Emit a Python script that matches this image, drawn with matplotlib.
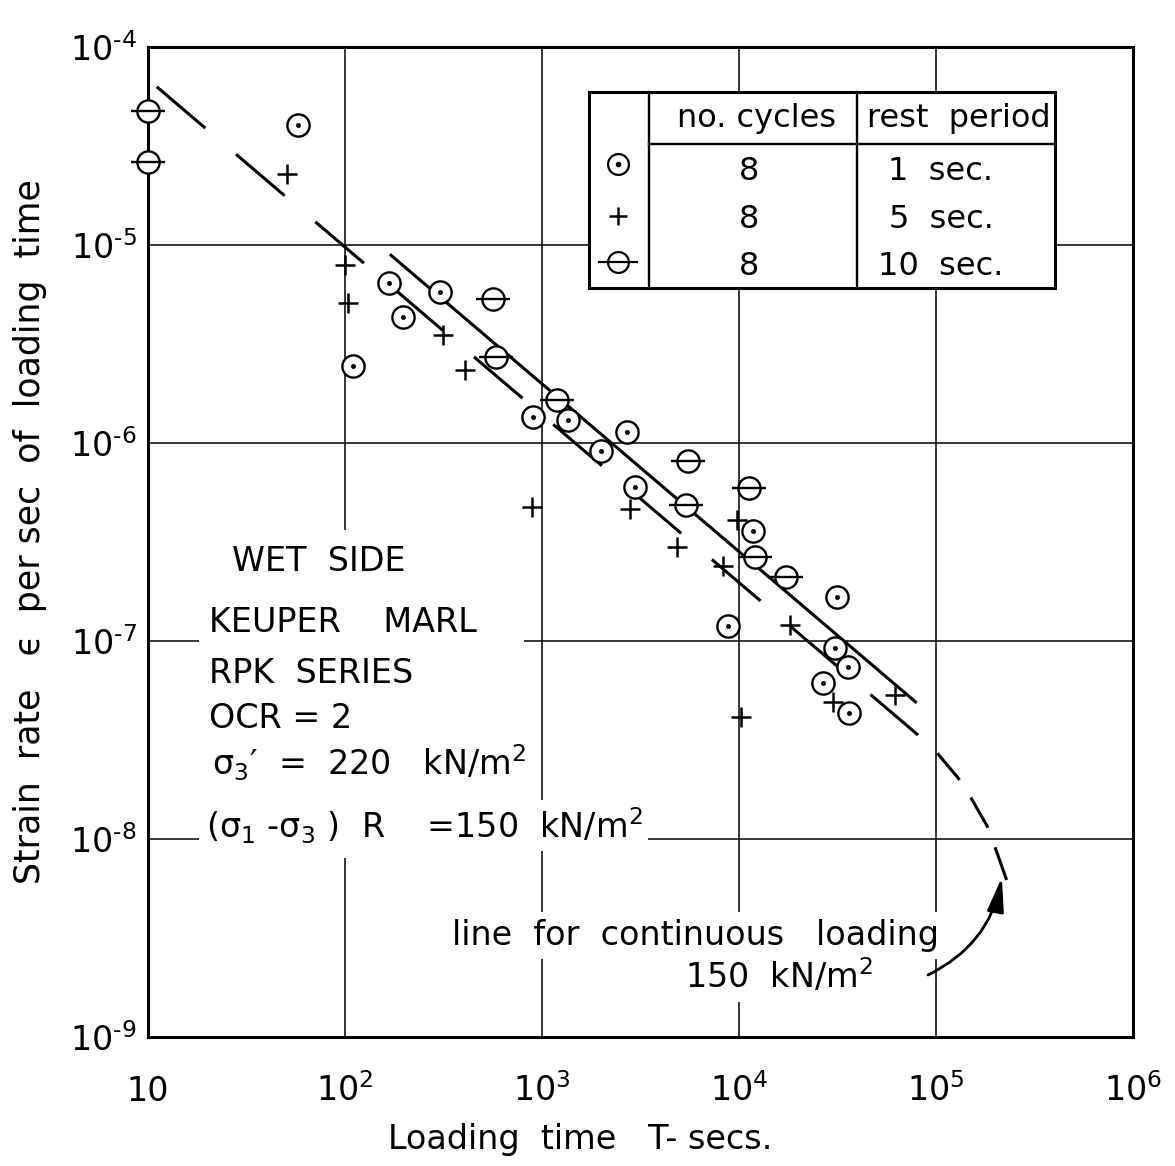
import matplotlib
matplotlib.use("Agg")
import matplotlib.pyplot as plt
from matplotlib.patches import Rectangle
from matplotlib.lines import Line2D

plt.rcParams["font.family"] = ["DejaVu Sans"]
plt.rcParams["mathtext.fontset"] = "dejavusans"
plt.rcParams["lines.scale_dashes"] = False

# ---- data -------------------------------------------------------------
# rest period 1 sec (dotted circles)
dot_T = [58, 110, 168, 198, 303, 897, 1349, 1990, 2710, 2966,
         8830, 11720, 26600, 30670, 31600, 35880, 36300]
dot_rate = [4.03e-5, 2.45e-6, 6.45e-6, 4.35e-6, 5.77e-6, 1.36e-6, 1.31e-6,
            9.1e-7, 1.14e-6, 6.0e-7, 1.19e-7, 3.6e-7, 6.15e-8, 9.2e-8,
            1.66e-7, 7.36e-8, 4.31e-8]

# rest period 5 sec (plus)
plus_T = [50.6, 100, 104, 315, 406, 885, 2800, 4864, 8260, 9730,
          10230, 18170, 30100, 61900]
plus_rate = [2.28e-5, 7.92e-6, 5.08e-6, 3.51e-6, 2.34e-6, 4.77e-7, 4.62e-7,
             2.99e-7, 2.39e-7, 4.08e-7, 4.15e-8, 1.2e-7, 4.93e-8, 5.33e-8]

# rest period 10 sec (barred circles)
bar_T = [10, 10, 562, 581, 1186, 5380, 5530, 11270, 12050, 17340]
bar_rate = [4.76e-5, 2.62e-5, 5.32e-6, 2.73e-6, 1.65e-6, 4.86e-7, 8.1e-7,
            5.94e-7, 2.65e-7, 2.11e-7]

# line through the cyclic test results
cyc_T = [169, 79800]
cyc_rate = [8.97e-6, 4.87e-8]

# line for continuous loading: straight part, then the bend at long times
cont_T = [11.07, 81100]
cont_rate = [6.3e-5, 3.35e-8]
bend_T = [1.016e5, 1.297e5, 1.476e5, 1.82e5, 1.99e5, 2.33e5]
bend_rate = [2.71e-8, 2.03e-8, 1.67e-8, 1.16e-8, 9.14e-9, 5.86e-9]
arrow_tip = (2.16e5, 6.4e-9)

x_ticks = [10, 1e2, 1e3, 1e4, 1e5, 1e6]
x_ticklabels = ["10", r"$10^{2}$", r"$10^{3}$", r"$10^{4}$", r"$10^{5}$", r"$10^{6}$"]
y_ticks = [1e-9, 1e-8, 1e-7, 1e-6, 1e-5, 1e-4]
y_ticklabels = [r"$10^{‐9}$", r"$10^{‐8}$", r"$10^{‐7}$", r"$10^{‐6}$",
                r"$10^{‐5}$", r"$10^{‐4}$"]

table_header = ["no. cycles", "rest  period"]
table_cycles = ["8", "8", "8"]
table_rest = ["1  sec.", "5  sec.", "10  sec."]

info_lines = ["WET  SIDE", "KEUPER    MARL", "RPK  SERIES", "OCR = 2",
              "σ$_3$′  =  220   kN/m$^2$",
              "(σ$_1$ -σ$_3$ )  R    =150  kN/m$^2$"]

# ---- figure -----------------------------------------------------------
W, H = 1175, 1166
AX_L, AX_R, AX_T, AX_B = 148, 1133, 47, 1037
fig = plt.figure(figsize=(W / 100, H / 100), dpi=100)
ax = fig.add_axes([AX_L / W, 1 - AX_B / H, (AX_R - AX_L) / W, (AX_B - AX_T) / H])


def afr(px, py):
    """pixel position on the sheet -> axes fraction"""
    return ((px - AX_L) / (AX_R - AX_L), (AX_B - py) / (AX_B - AX_T))


ax.set_xscale("log")
ax.set_yscale("log")
ax.set_xlim(10, 1e6)
ax.set_ylim(1e-9, 1e-4)
ax.set_xticks(x_ticks)
ax.set_xticklabels(x_ticklabels)
ax.set_yticks(y_ticks)
ax.set_yticklabels(y_ticklabels)
ax.minorticks_off()
ax.tick_params(axis="both", length=0, labelsize=24)
ax.tick_params(axis="x", pad=46)
ax.tick_params(axis="y", pad=8)
for lab in ax.get_xticklabels():
    lab.set_verticalalignment("baseline")
ax.grid(True, which="major", color="black", lw=1.1)
for sp in ax.spines.values():
    sp.set_linewidth(2.2)

ax.set_xlabel("Loading  time   T- secs.", fontsize=24)
ax.set_ylabel("Strain  rate   ϵ  per sec  of  loading  time", fontsize=25)
ax.yaxis.set_label_coords(*afr(30, 532))
ax.xaxis.set_label_coords(*afr(580, 1140))
ax.xaxis.label.set_verticalalignment("center")
ax.yaxis.label.set_verticalalignment("center")

# lines
ax.plot(cyc_T, cyc_rate, color="black", lw=2.2, zorder=3, solid_capstyle="butt")
ax.plot(cont_T, cont_rate, color="black", lw=2.2, zorder=3,
        dashes=(46, 29), dash_capstyle="butt")
ax.plot(bend_T, bend_rate, color="black", lw=2.2, zorder=3,
        dashes=(25, 15), dash_capstyle="butt")

# markers
mk = dict(linestyle="none", clip_on=False)
ax.plot(dot_T, dot_rate, marker="o", ms=16, mfc="white", mec="black", mew=1.7, zorder=5, **mk)
ax.plot(dot_T, dot_rate, marker="o", ms=3, mfc="black", mec="black", mew=0.5, zorder=6, **mk)
ax.plot(plus_T, plus_rate, marker="+", ms=15, mec="black", mew=1.8, zorder=5, **mk)
ax.plot(bar_T, bar_rate, marker="o", ms=16, mfc="white", mec="black", mew=1.7, zorder=5, **mk)
ax.plot(bar_T, bar_rate, marker="_", ms=25, mec="black", mew=1.7, zorder=6, **mk)

# ---- legend table -----------------------------------------------------
TL, TR, TT, TB = 589, 1055, 92, 288
C1, C2, HY = 649, 857, 144
x0, y1 = afr(TL, TB)
x1, y0 = afr(TR, TT)
ax.add_patch(Rectangle((x0, y1), x1 - x0, y0 - y1, transform=ax.transAxes,
                       facecolor="white", edgecolor="black", lw=2.2, zorder=7))
for seg in [((C1, TT), (C1, TB)), ((C2, TT), (C2, TB)), ((C1, HY), (TR, HY))]:
    (ax_a, ay_a), (ax_b, ay_b) = afr(*seg[0]), afr(*seg[1])
    ax.add_line(Line2D([ax_a, ax_b], [ay_a, ay_b], transform=ax.transAxes,
                       color="black", lw=1.7, zorder=8))
ax.text(*afr(757, 127), table_header[0], transform=ax.transAxes, fontsize=23,
        ha="center", va="baseline", zorder=9)
ax.text(*afr(959, 127), table_header[1], transform=ax.transAxes, fontsize=23,
        ha="center", va="baseline", zorder=9)
row_base = [180, 228, 275]
row_mark = [164, 216, 262]
for i in range(3):
    ax.text(*afr(749, row_base[i]), table_cycles[i], transform=ax.transAxes,
            fontsize=23, ha="center", va="baseline", zorder=9)
    ax.text(*afr(941, row_base[i]), table_rest[i], transform=ax.transAxes,
            fontsize=23, ha="center", va="baseline", zorder=9)
mx = afr(618, 0)[0]
lm = dict(transform=ax.transAxes, linestyle="none", zorder=9, clip_on=False)
ax.plot([mx], [afr(0, row_mark[0])[1]], marker="o", ms=15, mfc="white", mec="black", mew=1.6, **lm)
ax.plot([mx], [afr(0, row_mark[0])[1]], marker="o", ms=3, mfc="black", mec="black", **lm)
ax.plot([mx], [afr(0, row_mark[1])[1]], marker="+", ms=13, mec="black", mew=1.8, **lm)
ax.plot([mx], [afr(0, row_mark[2])[1]], marker="o", ms=15, mfc="white", mec="black", mew=1.6, **lm)
ax.plot([mx], [afr(0, row_mark[2])[1]], marker="_", ms=29, mec="black", mew=1.6, **lm)

# ---- test description -------------------------------------------------
bx0, by0 = afr(199, 858)
bx1, by1 = afr(524, 530)
ax.add_patch(Rectangle((bx0, by0), bx1 - bx0, by1 - by0, transform=ax.transAxes,
                       facecolor="white", edgecolor="none", zorder=4))
info_pos = [(232, 571), (209, 632), (209, 683), (209, 728), (212, 775), (206, 838)]
for (px, py), s in zip(info_pos, info_lines):
    ax.text(*afr(px, py), s, transform=ax.transAxes, fontsize=24,
            ha="left", va="baseline", zorder=5,
            bbox=dict(boxstyle="square,pad=0.15", fc="white", ec="none"))

# ---- continuous loading note and arrow --------------------------------
ax.text(*afr(452, 945), "line  for  continuous   loading", transform=ax.transAxes,
        fontsize=24, ha="left", va="baseline", zorder=5,
        bbox=dict(boxstyle="square,pad=0.2", fc="white", ec="none"))
ax.text(*afr(685, 988), r"150  kN/m$^2$", transform=ax.transAxes,
        fontsize=24, ha="left", va="baseline", zorder=5,
        bbox=dict(boxstyle="square,pad=0.2", fc="white", ec="none"))
ax.annotate("", xy=arrow_tip, xycoords="data",
            xytext=afr(928, 975), textcoords="axes fraction",
            arrowprops=dict(arrowstyle="-|>,head_length=0.7,head_width=0.17",
                            connectionstyle="arc3,rad=0.25", lw=2.0,
                            color="black", shrinkA=0, shrinkB=0,
                            mutation_scale=30),
            zorder=6)

fig.savefig("out.png", dpi=100, facecolor="white")
